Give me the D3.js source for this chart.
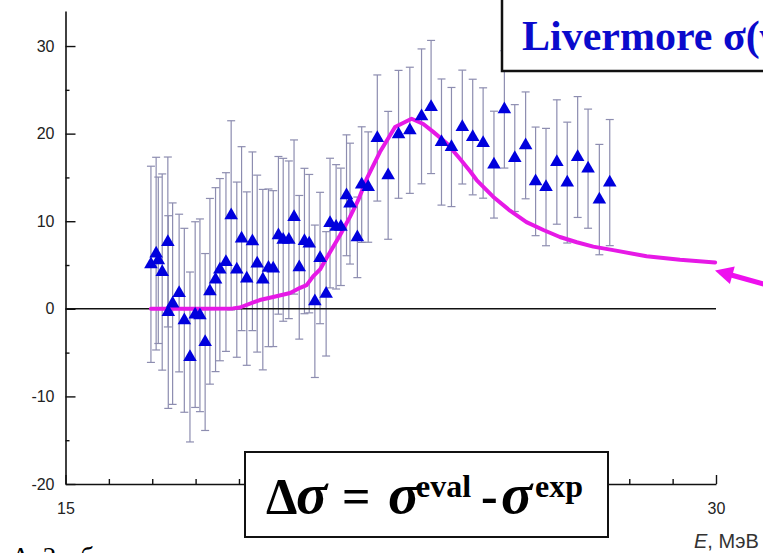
<!DOCTYPE html>
<html>
<head>
<meta charset="utf-8">
<script src="https://cdn.jsdelivr.net/npm/d3@7"></script>
<style>
  body { margin: 0; background: #fff; }
  svg { display: block; }
</style>
</head>
<body>
<svg id="chart" width="763" height="553"></svg>
<script>
// Measured points: neutron energy (MeV), deviation Δσ and its uncertainty
const energy = [16.97, 17.09, 17.14, 17.23, 17.36, 17.37, 17.47, 17.62, 17.74, 17.87,
  17.99, 18.10, 18.22, 18.33, 18.46, 18.56, 18.70, 18.82, 18.95, 19.06,
  19.18, 19.31, 19.42, 19.55, 19.68, 19.79, 19.91, 20.02, 20.15, 20.27,
  20.39, 20.51, 20.62, 20.75, 20.87, 21.01, 21.10, 21.24, 21.35, 21.48,
  21.56, 21.73, 21.83, 21.98, 22.19, 22.44, 22.68, 22.94, 23.21, 23.43,
  23.67, 23.90, 24.15, 24.39, 24.63, 24.88, 25.12, 25.36, 25.61, 25.84,
  26.08, 26.33, 26.57, 26.81, 27.05, 27.31, 27.55];
const delta = [5.08, 6.30, 5.54, 4.20, 7.63, -0.37, 0.59, 1.80, -1.31, -5.50,
  -0.66, -0.74, -3.79, 2.00, 3.33, 4.47, 5.34, 10.67, 4.47, 8.01,
  3.45, 7.71, 5.16, 3.33, 4.68, 4.59, 8.39, 7.88, 7.88, 10.48,
  4.74, 7.74, 7.44, 0.86, 5.80, 1.71, 9.79, 9.36, 9.36, 12.96,
  12.01, 8.16, 14.18, 13.90, 19.50, 15.24, 19.92, 20.38, 21.97, 23.04,
  19.04, 18.47, 20.75, 19.61, 18.93, 16.46, 22.77, 17.21, 18.66, 14.55,
  13.90, 16.76, 14.41, 17.33, 16.00, 12.47, 14.41];
const deltaErr = [11.2, 11.0, 9.5, 11.2, 9.7, 11.0, 11.5, 9.0, 10.5, 9.7,
  10.6, 11.0, 10.1, 10.6, 10.5, 10.4, 10.2, 10.8, 10.0, 10.5,
  9.9, 10.2, 10.1, 10.3, 9.0, 8.9, 9.0, 9.3, 9.0, 8.8,
  8.2, 8.3, 7.9, 8.7, 7.5, 7.1, 7.4, 7.1, 6.7, 6.9,
  6.9, 4.6, 6.6, 6.3, 7.2, 7.3, 7.3, 7.2, 7.7, 7.6,
  7.2, 6.8, 6.5, 6.6, 6.3, 6.1, 6.7, 6.1, 6.1, 6.2,
  6.7, 7.1, 6.9, 6.9, 6.8, 6.3, 7.2];

// Evaluated curve (Livermore) relative to experiment
const evalEnergy = [16.97, 17.5, 18.10, 18.86, 19.02, 19.48, 19.79, 20.18, 20.41, 20.56,
  20.71, 20.87, 21.02, 21.33, 21.56, 21.75, 21.95, 22.25, 22.60, 22.98,
  23.25, 23.48, 23.79, 24.10, 24.33, 24.48, 24.86, 25.25, 25.63, 26.02,
  26.40, 26.79, 27.17, 27.63, 28.40, 29.17, 29.98];
const evalDelta = [0, 0, 0, 0.05, 0.15, 1.0, 1.35, 1.8, 2.4, 2.7,
  3.7, 4.5, 5.8, 8.4, 10.5, 12.4, 14.9, 17.9, 20.75, 21.7,
  21.1, 20.2, 18.9, 17.1, 15.7, 14.7, 12.8, 11.2, 9.9, 9.0,
  8.2, 7.6, 7.1, 6.7, 6.0, 5.6, 5.3];

const yMajorTicks = [-20, -10, 0, 10, 20, 30];
const yMinorTicks = [-15, -5, 5, 15, 25];
const xTicks = d3.range(15, 31, 1);
const xLabelledTicks = [15, 30];

const svg = d3.select("#chart");
const x = d3.scaleLinear().domain([15, 30]).range([65.5, 716]);
const y = d3.scaleLinear().domain([-20, 34]).range([484, 11]);

const tickFont = "'Liberation Sans', Arial, sans-serif";

// Y axis
const yAxis = svg.append("g").attr("transform", `translate(${x(15)},0)`)
  .call(d3.axisLeft(y).tickValues(yMajorTicks).tickFormat(d => String(d))
    .tickSizeInner(-10).tickSizeOuter(0).tickPadding(11));
yAxis.select(".domain").attr("stroke", "#111").attr("stroke-width", 1.6);
yAxis.selectAll(".tick line").attr("stroke", "#111").attr("stroke-width", 1.4);
yAxis.selectAll(".tick text").attr("font-family", tickFont).attr("font-size", 16).attr("fill", "#222");

const yMinor = svg.append("g").attr("transform", `translate(${x(15)},0)`)
  .call(d3.axisLeft(y).tickValues(yMinorTicks).tickSize(-4).tickFormat(""));
yMinor.select(".domain").remove();
yMinor.selectAll(".tick line").attr("stroke", "#111").attr("stroke-width", 1.4);

// X axis
const xAxis = svg.append("g").attr("transform", `translate(0,${y(-20)})`)
  .call(d3.axisBottom(x).tickValues(xTicks).tickSizeOuter(0).tickPadding(13)
    .tickFormat(d => xLabelledTicks.includes(d) ? String(d) : ""));
xAxis.select(".domain").attr("stroke", "#111").attr("stroke-width", 1.6);
xAxis.selectAll(".tick line")
  .attr("stroke", "#111").attr("stroke-width", 1.4)
  .attr("y2", d => xLabelledTicks.includes(d) ? -9 : -5);
xAxis.selectAll(".tick text").attr("font-family", tickFont).attr("font-size", 16).attr("fill", "#222");

// Error bars
const capHalf = 4;
const bars = svg.append("g").attr("stroke", "#8d8db0").attr("stroke-width", 1.2).attr("fill", "none");
energy.forEach((e, i) => {
  const cx = x(e), top = y(delta[i] + deltaErr[i]), bot = y(delta[i] - deltaErr[i]);
  bars.append("line").attr("x1", cx).attr("x2", cx).attr("y1", top).attr("y2", bot);
  bars.append("line").attr("x1", cx - capHalf).attr("x2", cx + capHalf).attr("y1", top).attr("y2", top);
  bars.append("line").attr("x1", cx - capHalf).attr("x2", cx + capHalf).attr("y1", bot).attr("y2", bot);
});

// Zero reference line
svg.append("line")
  .attr("x1", x(15)).attr("x2", x(30)).attr("y1", y(0)).attr("y2", y(0))
  .attr("stroke", "#111").attr("stroke-width", 1.6);

// Evaluated curve
svg.append("path")
  .datum(evalEnergy.map((e, i) => [e, evalDelta[i]]))
  .attr("fill", "none").attr("stroke", "#e619e6").attr("stroke-width", 4)
  .attr("stroke-linejoin", "round").attr("stroke-linecap", "round")
  .attr("d", d3.line().x(d => x(d[0])).y(d => y(d[1])));

// Data markers
svg.append("g").selectAll("path")
  .data(energy.map((e, i) => [e, delta[i]]))
  .join("path")
  .attr("transform", d => `translate(${x(d[0])},${y(d[1])})`)
  .attr("d", d3.symbol(d3.symbolTriangle, 80))
  .attr("fill", "#0000dd");

// Arrow pointing at the curve end
const tipX = x(30) - 1, tipY = y(evalDelta[evalDelta.length - 1]) + 8;
const ang = Math.atan2(14, 50);
const headLen = 18, headW = 9;
const bx = tipX + headLen * Math.cos(ang), by = tipY + headLen * Math.sin(ang);
svg.append("line")
  .attr("x1", bx - 2).attr("y1", by - 0.5)
  .attr("x2", tipX + 70 * Math.cos(ang)).attr("y2", tipY + 70 * Math.sin(ang))
  .attr("stroke", "#ee10ee").attr("stroke-width", 5);
svg.append("path")
  .attr("d", `M${tipX},${tipY} L${bx - headW * Math.sin(ang)},${by + headW * Math.cos(ang)} L${bx + headW * Math.sin(ang)},${by - headW * Math.cos(ang)} Z`)
  .attr("fill", "#ee10ee");

// Title box
svg.append("rect").attr("x", 502).attr("y", -10).attr("width", 300).attr("height", 81)
  .attr("fill", "#fff").attr("stroke", "#111").attr("stroke-width", 2.5);
svg.append("text").attr("x", 522).attr("y", 50)
  .attr("font-family", "'Liberation Serif', 'Times New Roman', serif")
  .attr("font-weight", "bold").attr("font-size", 42).attr("fill", "#0a0acc")
  .text("Livermore σ(γ,n)");

// Formula box
const serif = "'Liberation Serif', 'Times New Roman', serif";
svg.append("rect").attr("x", 245).attr("y", 452).attr("width", 363).attr("height", 85)
  .attr("fill", "#fff").attr("stroke", "#111").attr("stroke-width", 2);
const f = svg.append("g").attr("font-family", serif).attr("font-weight", "bold").attr("fill", "#000");
f.append("text").attr("x", 266).attr("y", 513).attr("font-size", 50).text("Δ");
f.append("text").attr("x", 296).attr("y", 513).attr("font-size", 58).attr("font-style", "italic").text("σ");
f.append("text").attr("x", 342).attr("y", 513).attr("font-size", 50).text("=");
f.append("text").attr("x", 388).attr("y", 513).attr("font-size", 58).attr("font-style", "italic").text("σ");
f.append("text").attr("x", 416).attr("y", 497).attr("font-size", 32).text("eval");
f.append("text").attr("x", 481).attr("y", 513).attr("font-size", 50).text("-");
f.append("text").attr("x", 501).attr("y", 513).attr("font-size", 58).attr("font-style", "italic").text("σ");
f.append("text").attr("x", 535).attr("y", 497).attr("font-size", 32).text("exp");

// Axis title
const xt = svg.append("text").attr("x", 694).attr("y", 548)
  .attr("font-family", tickFont).attr("font-size", 20).attr("fill", "#333");
xt.append("tspan").attr("font-style", "italic").text("E");
xt.append("tspan").text(", МэВ");

// Caption line below the chart
svg.append("text").attr("x", 12).attr("y", 566)
  .attr("font-family", serif).attr("font-size", 27).attr("fill", "#000")
  .text("Δ, 2 мб");
</script>
</body>
</html>
